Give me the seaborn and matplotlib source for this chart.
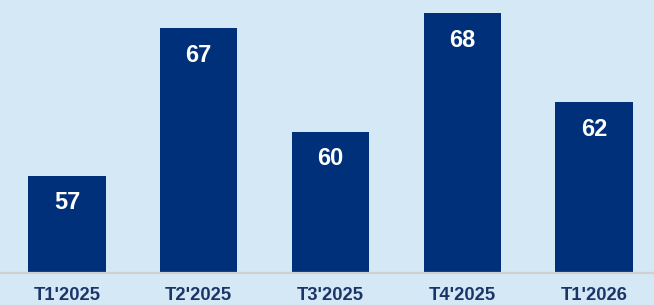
import matplotlib
matplotlib.use("Agg")
import matplotlib.pyplot as plt
import seaborn as sns
import pandas as pd

periods = ["T1'2025", "T2'2025", "T3'2025", "T4'2025", "T1'2026"]
values = [57, 67, 60, 68, 62]

bg = "#D5E8F5"
bar_color = "#00307A"
label_color = "#1B3567"

sns.set_style("white")
plt.rcParams['font.family'] = ['Liberation Sans', 'DejaVu Sans']

df = pd.DataFrame({'periode': periods, 'valeur': values})

fig = plt.figure(figsize=(6.54, 3.05), dpi=100)
fig.patch.set_facecolor(bg)
ax = fig.add_axes([0, 0.105, 1, 0.895])
ax.set_facecolor(bg)

sns.barplot(data=df, x='periode', y='valeur', color=bar_color, width=0.5875,
            saturation=1, linewidth=0, edgecolor=bar_color, ax=ax)

ax.set_ylim(50.44, 68.9)
ax.set_xlim(-0.508, 4.455)

for i, v in enumerate(values):
    ax.annotate(str(v), xy=(i, v), xytext=(0, -27), textcoords='offset pixels',
                ha='center', va='center', color='white', fontsize=17, fontweight='bold')

ax.axhline(50.44, color='#D0D0D0', linewidth=1.6, clip_on=False)

for s in ax.spines.values():
    s.set_visible(False)
ax.set_yticks([])
ax.set_xlabel('')
ax.set_ylabel('')
ax.tick_params(axis='x', length=0, pad=10, labelsize=13.2, labelcolor=label_color)
for t in ax.get_xticklabels():
    t.set_fontweight('bold')

fig.savefig('out.png', dpi=100, facecolor=bg)
